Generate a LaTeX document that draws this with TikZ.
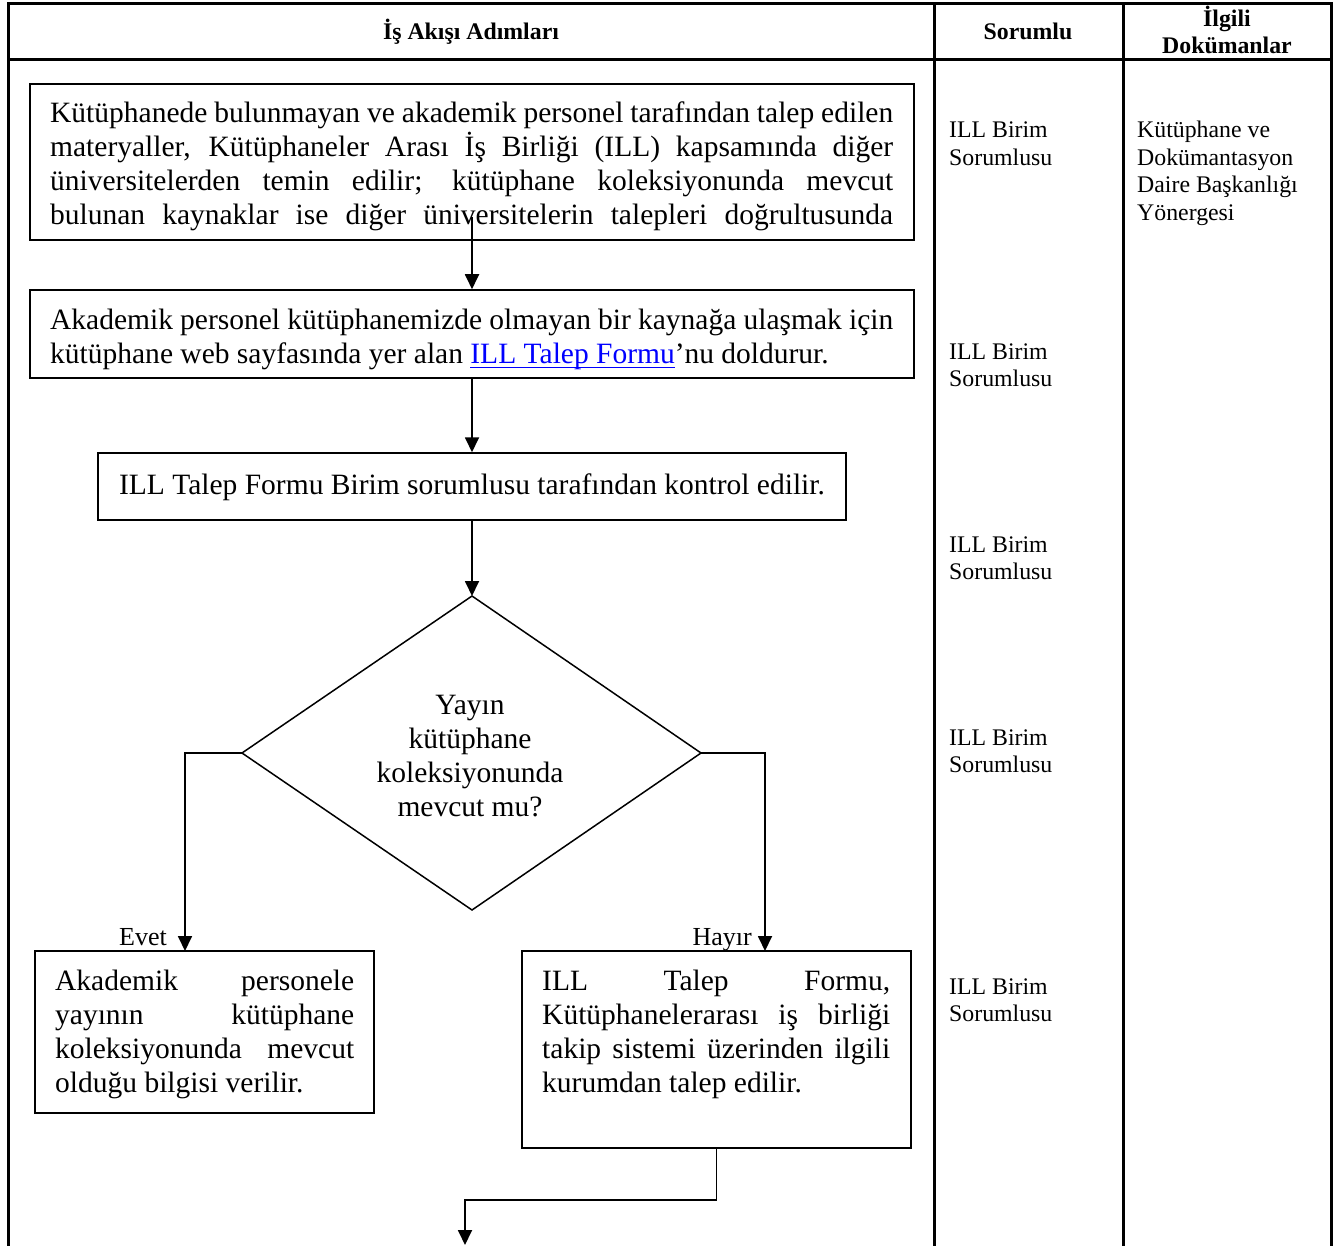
\documentclass[tikz,border=0pt]{standalone}
\usepackage{fontspec}
\setmainfont{Liberation Serif}
\usetikzlibrary{arrows.meta}
\definecolor{linkblue}{RGB}{0,0,255}
\newcommand\myulink[1]{\setbox0\hbox{#1}\rlap{\rule[-4.5pt]{\wd0}{1.6pt}}\box0}
\begin{document}
\begin{tikzpicture}[x=1pt,y=-1pt,
  tbl/.style={line width=3pt},
  box/.style={draw, line width=1.5pt, inner sep=0pt},
  arr/.style={line width=1.8pt, -{Triangle[length=15pt,width=14pt]}},
  txt/.style={inner sep=0pt, anchor=base west, font=\fontsize{29.5}{34}\selectfont},
  ctxt/.style={inner sep=0pt, anchor=base, font=\fontsize{29.5}{34}\selectfont},
  side/.style={inner sep=0pt, anchor=base west, font=\fontsize{23.8}{27.5}\selectfont},
  head/.style={inner sep=0pt, anchor=base, font=\fontsize{23.8}{27}\selectfont\bfseries},
  lbl/.style={inner sep=0pt, anchor=base east, font=\fontsize{26}{30}\selectfont}]
\useasboundingbox (0,0) rectangle (1340,1246);
% table
\draw[tbl] (8,1250) -- (8,4) -- (1331,4) -- (1331,1250);
\draw[tbl] (8,60) -- (1331,60);
\draw[tbl] (934,4) -- (934,1250);
\draw[tbl] (1123,4) -- (1123,1250);
\node[head] (h1) at (471,40) {İş Akışı Adımları};
\node[head] (h2) at (1028,40) {Sorumlu};
\node[head] (h3) at (1227,27) {\parbox[t]{200pt}{\centering İlgili\\Dokümanlar}};
% boxes
\node[box, minimum width=884pt, minimum height=156pt] (b1) at (472,162) {};
\node[box, minimum width=884pt, minimum height=88pt] (b2) at (472,334) {};
\node[box, minimum width=748pt, minimum height=67pt] (b3) at (472,486.5) {};
\node[box, minimum width=339pt, minimum height=162pt] (b4) at (204.5,1032) {};
\node[box, minimum width=389pt, minimum height=197pt] (b5) at (716.5,1049.5) {};
% diamond
\coordinate (dtop) at (472,596);
\coordinate (dleft) at (242,753);
\coordinate (dright) at (701,753);
\coordinate (dbot) at (472,910);
\draw[line width=1.5pt] (dtop) -- (dright) -- (dbot) -- (dleft) -- cycle;
% texts
\node[txt] (t1) at (50,123) {\parbox[t]{843pt}{%
\makebox[843pt][s]{Kütüphanede bulunmayan ve akademik personel tarafından talep edilen}\\
\makebox[843pt][s]{materyaller, Kütüphaneler Arası İş Birliği (ILL) kapsamında diğer}\\
\makebox[843pt][s]{üniversitelerden temin edilir; kütüphane koleksiyonunda mevcut}\\
\makebox[843pt][s]{bulunan kaynaklar ise diğer üniversitelerin talepleri doğrultusunda}}};
\node[txt] (t2) at (50,330) {\parbox[t]{843pt}{%
\makebox[843pt][s]{Akademik personel kütüphanemizde olmayan bir kaynağa ulaşmak için}\\
kütüphane web sayfasında yer alan \textcolor{linkblue}{\myulink{ILL Talep Formu}}’nu doldurur.}};
\node[ctxt] (t3) at (472,494) {ILL Talep Formu Birim sorumlusu tarafından kontrol edilir.};
\node[ctxt] (td) at (470,714) {\parbox[t]{300pt}{\centering Yayın\\kütüphane\\koleksiyonunda\\mevcut mu?}};
\node[txt] (t4) at (55,990) {\parbox[t]{299pt}{%
\makebox[299pt][s]{Akademik personele}\\
\makebox[299pt][s]{yayının kütüphane}\\
\makebox[299pt][s]{koleksiyonunda mevcut}\\
olduğu bilgisi verilir.}};
\node[txt] (t5) at (542,990) {\parbox[t]{348pt}{%
\makebox[348pt][s]{ILL Talep Formu,}\\
\makebox[348pt][s]{Kütüphanelerarası iş birliği}\\
\makebox[348pt][s]{takip sistemi üzerinden ilgili}\\
kurumdan talep edilir.}};
% side texts
\node[side] (s1) at (949,138) {\parbox[t]{180pt}{ILL Birim\\Sorumlusu}};
\node[side] (s2) at (949,359) {\parbox[t]{180pt}{ILL Birim\\Sorumlusu}};
\node[side] (s3) at (949,552) {\parbox[t]{180pt}{ILL Birim\\Sorumlusu}};
\node[side] (s4) at (949,745) {\parbox[t]{180pt}{ILL Birim\\Sorumlusu}};
\node[side] (s5) at (949,994) {\parbox[t]{180pt}{ILL Birim\\Sorumlusu}};
\node[side] (d1) at (1137,138) {\parbox[t]{190pt}{Kütüphane ve\\Dokümantasyon\\Daire Başkanlığı\\Yönergesi}};
% connectors
\coordinate (a1) at (472,217);
\coordinate (b4in) at (185,951);
\coordinate (b5in) at (765,951);
\coordinate (endp) at (465,1245);
\draw[arr] (a1) -- (b2.north);
\draw[arr] (b2.south) -- (b3.north);
\draw[arr] (b3.south) -- (dtop);
\draw[arr] (dleft) -| (b4in);
\draw[arr] (dright) -| (b5in);
\draw[arr] (b5.south) -- ++(0,51) -| (endp);
\node[lbl] (ev) at (167,945) {Evet};
\node[lbl] (hy) at (752,945) {Hayır};
\end{tikzpicture}
\end{document}
